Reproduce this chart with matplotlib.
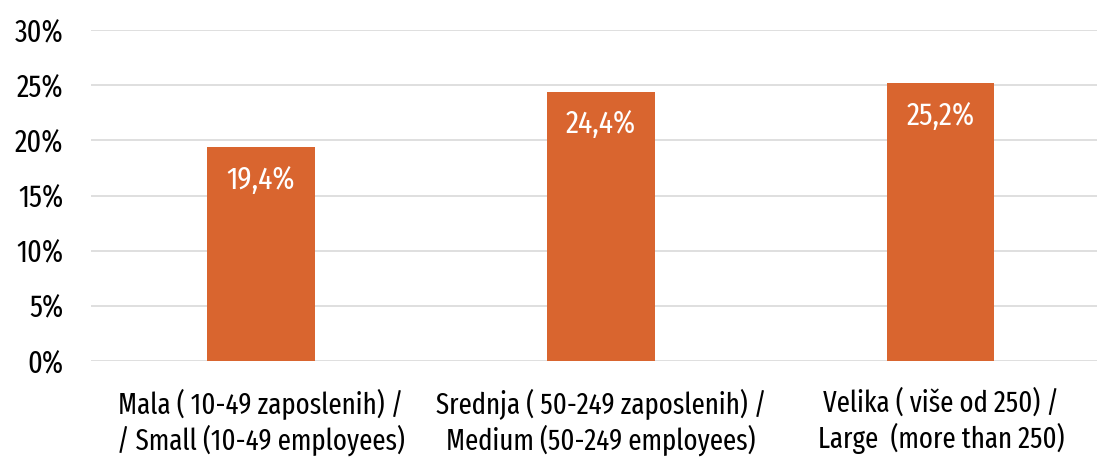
import matplotlib.pyplot as plt

categories = ["Mala ( 10-49 zaposlenih) /\n/ Small (10-49 employees)",
              "Srednja ( 50-249 zaposlenih) /\nMedium (50-249 employees)",
              "Velika ( više od 250) /\nLarge  (more than 250)"]
values = [19.4, 24.4, 25.2]
value_labels = ["19,4%", "24,4%", "25,2%"]
yticks = [0, 5, 10, 15, 20, 25, 30]

plt.rcParams['font.family'] = ['Fira Sans Extra Condensed', 'PT Sans Narrow', 'Roboto Condensed', 'DejaVu Sans']

fig = plt.figure(figsize=(10.97, 4.61), dpi=100)
ax = fig.add_axes([91 / 1097, 1 - 361 / 461, (1097 - 91) / 1097, (361 - 30) / 461])

x = range(len(values))
ax.bar(x, values, width=0.315, color="#D9652F", zorder=3)
for i, v in enumerate(values):
    ax.text(i, v - 1.6, value_labels[i], ha="center", va="top", color="white", fontsize=23)

ax.set_ylim(0, 30)
ax.set_xlim(-0.5, 2.459)
ax.set_yticks(yticks)
ax.set_yticklabels([f"{t}%" for t in yticks], fontsize=22)
ax.set_xticks(list(x))
ax.set_xticklabels(categories, fontsize=21, linespacing=1.2)
ax.yaxis.grid(True, color="#D9D9D9", linewidth=1.2, zorder=0)
ax.tick_params(axis="both", length=0)
ax.tick_params(axis="y", pad=20)
ax.tick_params(axis="x", pad=20)
for s in ax.spines.values():
    s.set_visible(False)

fig.savefig("out.png", dpi=100)
